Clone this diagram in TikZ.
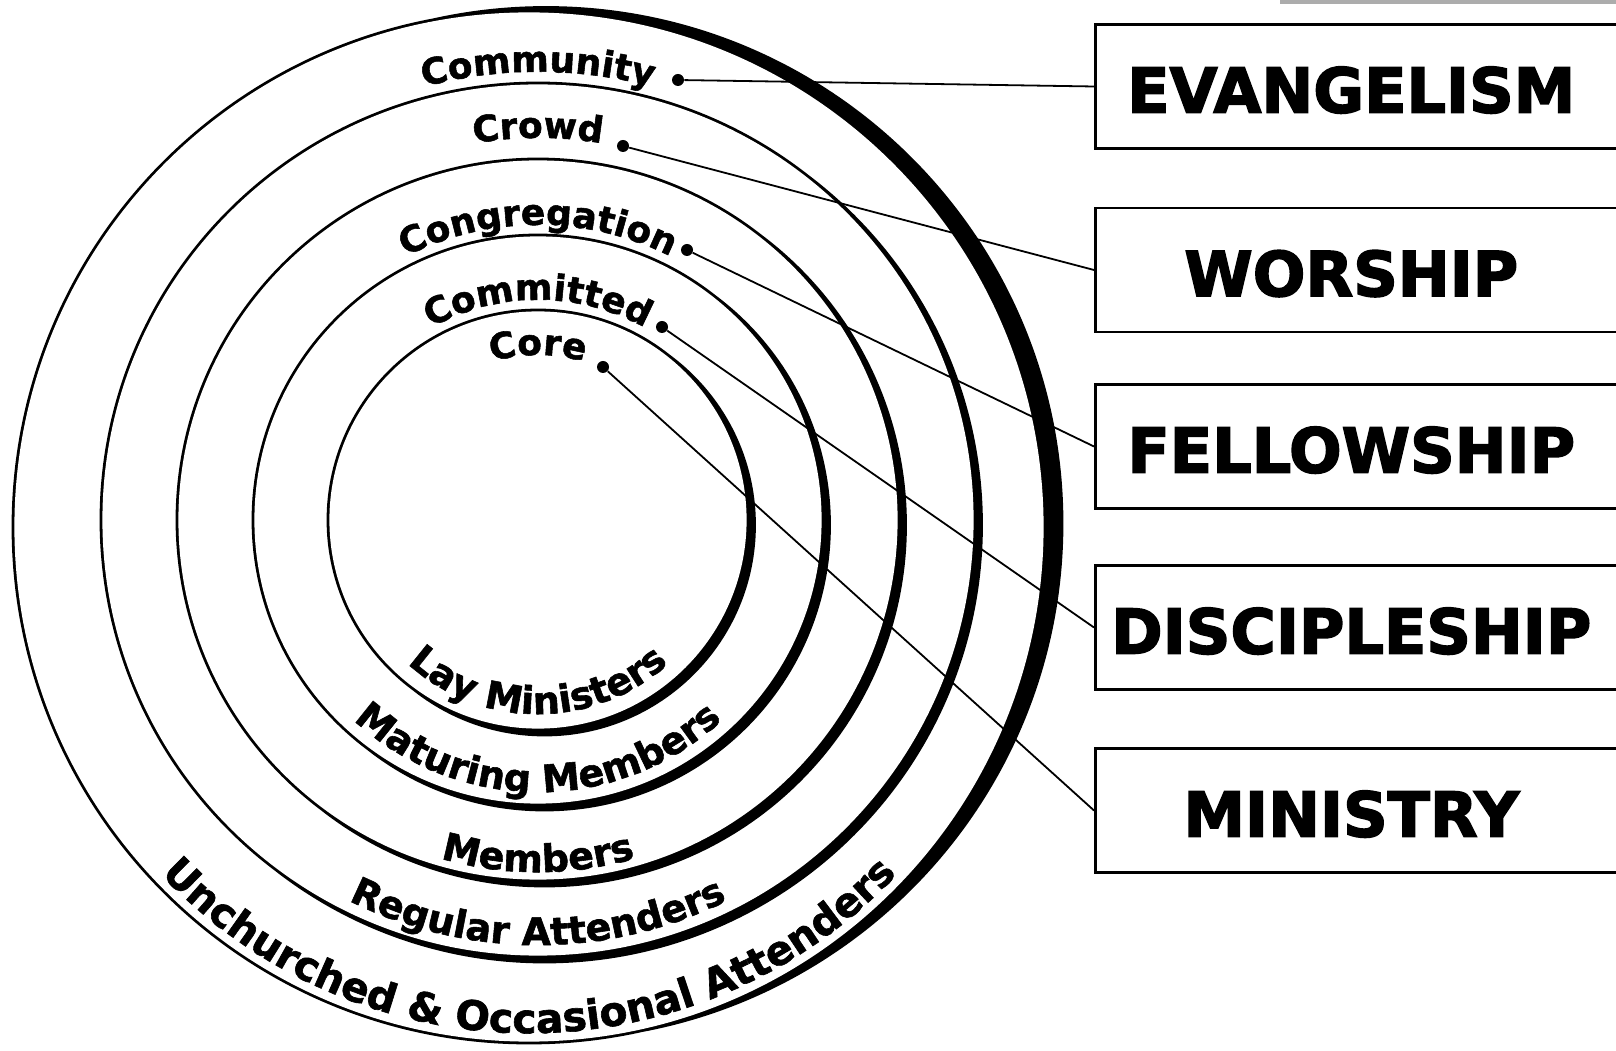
\documentclass[tikz,border=0pt]{standalone}
\usepackage{fontspec}
\usetikzlibrary{decorations.text, positioning}
\newfontfamily\ringfont{DejaVu Sans}[BoldFeatures={FakeBold=1.5}]
\newfontfamily\heavyfont{DejaVu Sans}[BoldFeatures={FakeBold=2.5}]
\newcommand\toptext{\ringfont\bfseries\fontsize{18pt}{18pt}\selectfont}
\newcommand\bottext{\ringfont\bfseries\fontsize{19pt}{19pt}\selectfont}
\newcommand\boxtext[1]{\makebox[256pt]{\rule{0pt}{26.6pt}#1}\rule{80pt}{0pt}}

\begin{document}
\begin{tikzpicture}[x=0.5pt, y=0.5pt,
		taskbox/.style={draw, line width=1.3pt, anchor=west, inner xsep=0pt, inner ysep=0pt, minimum height=62pt,
			font=\heavyfont\bfseries\fontsize{31pt}{31pt}\selectfont},
		dot/.style={circle, fill, inner sep=0pt, minimum size=6pt},
		link/.style={line width=0.9pt},
		toplabel/.style={decorate, decoration={text along path, text align=center, text={|\toptext|#1}}},
		botlabel/.style={decorate, decoration={text along path, text align=center, text={|\bottext|#1}}}]
		\useasboundingbox (0,0) rectangle (1616,1050);
		\clip (0,0) rectangle (1616,1050);
		\fill[gray!65] (1280,1050) rectangle (1616,1045.5);
		
		% Outer ring, heavy on the right
		\fill (529,523) circle[radius=517.4] (546,526.5) circle[radius=517.4];
		\fill[white] (529,523) circle[radius=514.6];
		% Inner rings, heavy at the lower right
		\foreach \r in {437,361,285,210}{
			\fill (538,530) circle[radius=\r+1.4] (544.5,525) circle[radius=\r+1.4];
			\fill[white] (538,530) circle[radius=\r-1.4];
		}
		
		% Labels along the top of the rings
		\begin{scope}[shift={(538,530)}]
			\path[toplabel={Community}] (160:448) arc[start angle=160, end angle=20, radius=448];
			\path[toplabel={Crowd}] (160:382) arc[start angle=160, end angle=20, radius=382];
			\path[toplabel={Congregation}] (160:295) arc[start angle=160, end angle=20, radius=295];
			\path[toplabel={Committed}] (160:220) arc[start angle=160, end angle=20, radius=220];
			\path[toplabel={Core}] (160:165) arc[start angle=160, end angle=20, radius=165];
			% Labels along the bottom
			\path[botlabel={Lay Ministers}] (200:194) arc[start angle=200, end angle=340, radius=194];
			\path[botlabel={Maturing Members}] (200:272) arc[start angle=200, end angle=340, radius=272];
			\path[botlabel={Members}] (200:352) arc[start angle=200, end angle=340, radius=352];
			\path[botlabel={Regular Attenders}] (200:425) arc[start angle=200, end angle=340, radius=425];
		\end{scope}
		\begin{scope}[shift={(529,523)}]
			\path[decorate, decoration={text along path, text align=center,
				text={|\ringfont\bfseries\fontsize{20.3pt}{20.3pt}\selectfont|Unchurched {\&} Occasional Attenders}}]
				(200:506) arc[start angle=200, end angle=340, radius=506];
		\end{scope}
		
		% Boxes on the right
		\node[taskbox] (evangelism) at (1094,963.5) {\boxtext{EVANGELISM}};
		\node[taskbox] (worship) at (1094,780) {\boxtext{WORSHIP}};
		\node[taskbox] (fellowship) at (1094,603.5) {\boxtext{FELLOWSHIP}};
		\node[taskbox] (discipleship) at (1094,422.5) {\boxtext{DISCIPLESHIP}};
		\node[taskbox] (ministry) at (1094,239.5) {\boxtext{MINISTRY}};
		
		% Dots and connectors
		\node[dot] (community) at (678,970) {};
		\node[dot] (crowd) at (623,904) {};
		\node[dot] (congregation) at (687,800) {};
		\node[dot] (committed) at (662,723) {};
		\node[dot] (core) at (603,683) {};
		\draw[link] (community) -- (evangelism.west);
		\draw[link] (crowd) -- (worship.west);
		\draw[link] (congregation) -- (fellowship.west);
		\draw[link] (committed) -- (discipleship.west);
		\draw[link] (core) -- (ministry.west);
\end{tikzpicture}
\end{document}
